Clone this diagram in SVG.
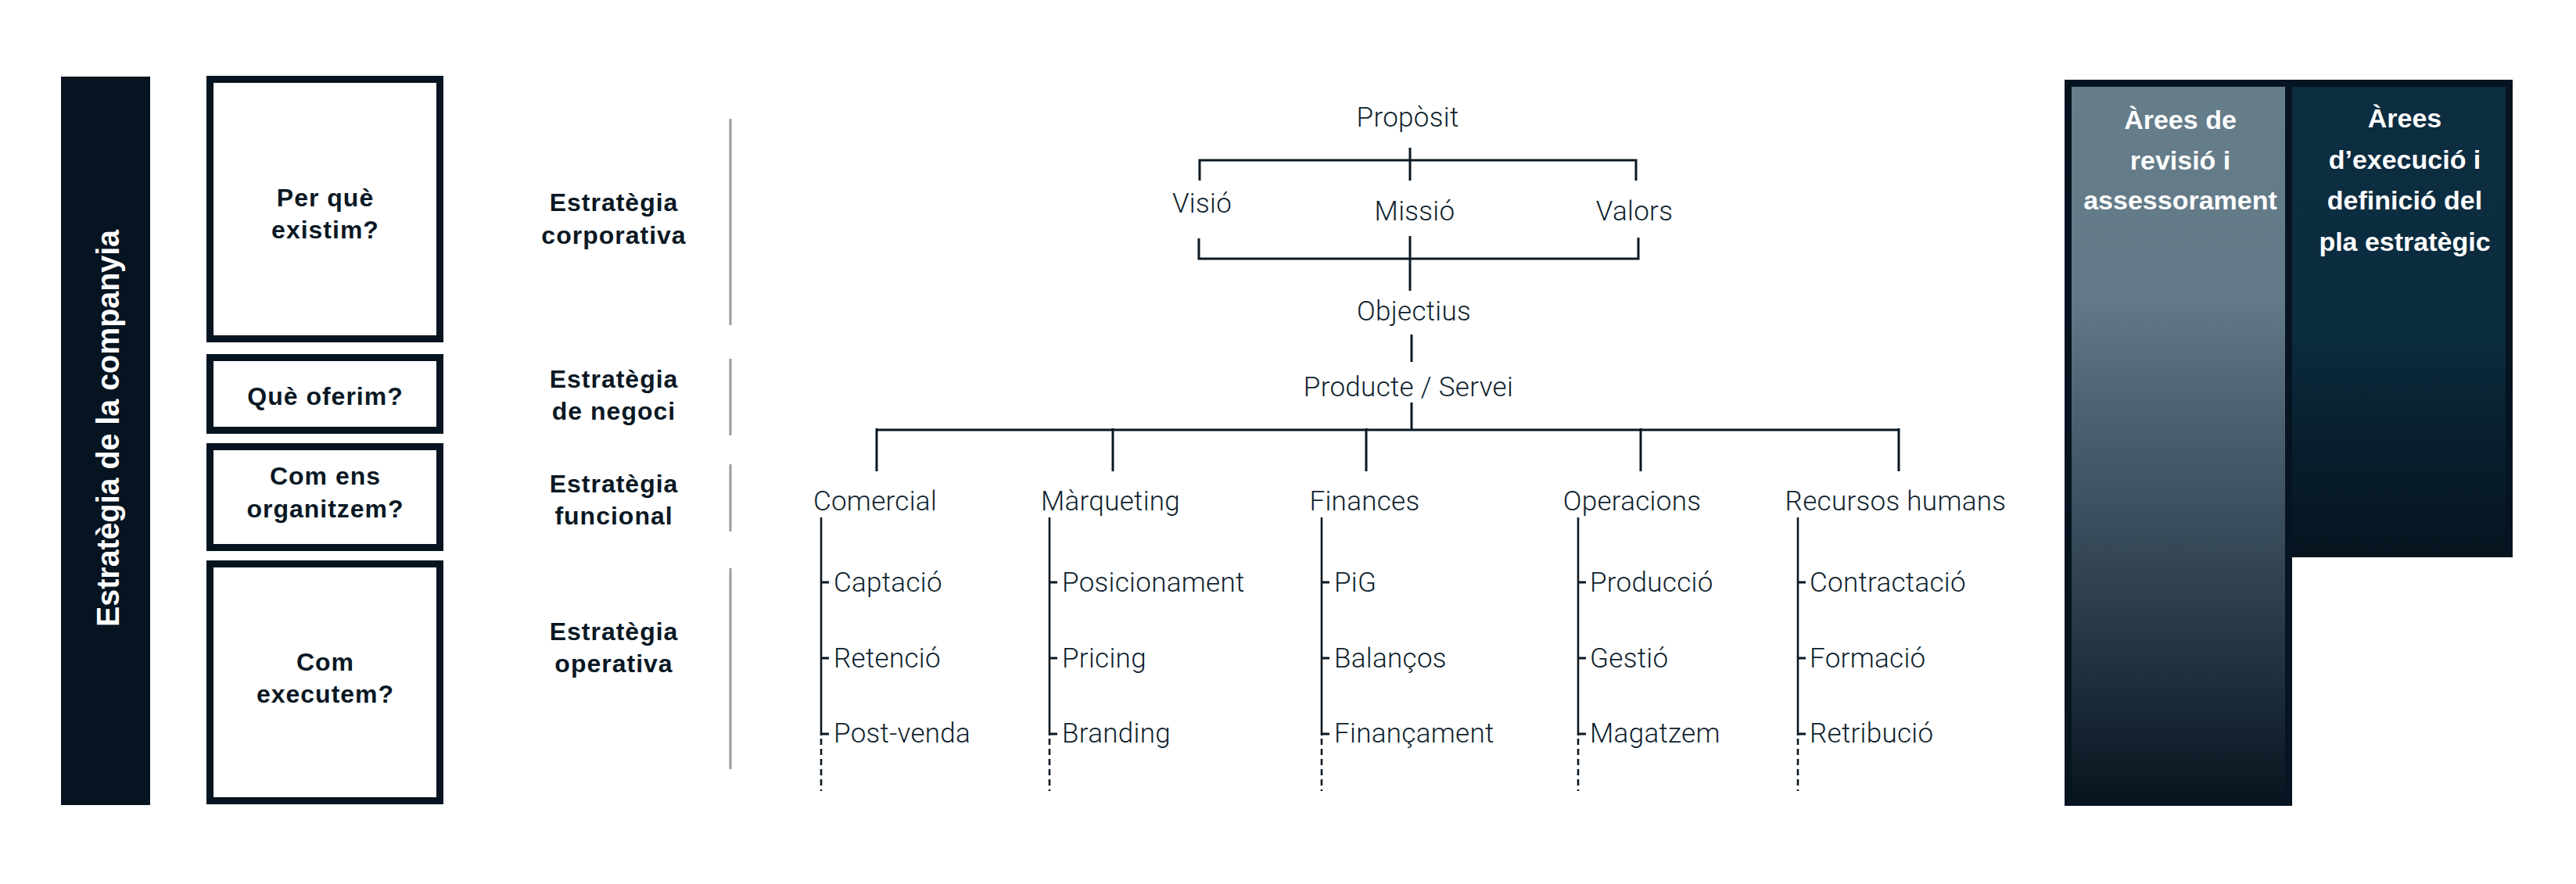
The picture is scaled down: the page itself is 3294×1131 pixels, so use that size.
<svg xmlns="http://www.w3.org/2000/svg" width="3294" height="1131" viewBox="0 0 3294 1131">
<style>
.bg{fill:#ffffff}
.dark{fill:#051420}
.box{fill:#ffffff;stroke:#051420;stroke-width:9}
.q{font-family:"Liberation Sans",Arial,sans-serif;font-weight:bold;font-size:32px;letter-spacing:1px;fill:#0a1824;text-anchor:middle}
.pan{font-family:"Liberation Sans",Arial,sans-serif;font-weight:bold;font-size:34px;fill:#ffffff;text-anchor:middle}
.lt{font-family:Roboto,"Liberation Sans",Arial,sans-serif;font-weight:300;font-size:35px;letter-spacing:0.3px;fill:#0f1f2e}
.c{text-anchor:middle}
.ln{stroke:#0a1822;stroke-width:3;fill:none}
.sub{stroke:#0a1822;stroke-width:2.6;fill:none}
.dash{stroke:#0a1822;stroke-width:2.6;fill:none;stroke-dasharray:8 5}
.gray{stroke:#9b9b9b;stroke-width:3;fill:none}
</style>
<defs>
<linearGradient id="gL" x1="0" y1="0" x2="0" y2="1">
<stop offset="0" stop-color="#667d8a"/>
<stop offset="0.3" stop-color="#627987"/>
<stop offset="0.45" stop-color="#4e6372"/>
<stop offset="0.58" stop-color="#3e5261"/>
<stop offset="0.72" stop-color="#2d3e4c"/>
<stop offset="0.86" stop-color="#1b2a37"/>
<stop offset="1" stop-color="#071520"/>
</linearGradient>
<linearGradient id="gR" x1="0" y1="0" x2="0" y2="1">
<stop offset="0" stop-color="#0d2d41"/>
<stop offset="0.55" stop-color="#0b2b3e"/>
<stop offset="0.8" stop-color="#081d2b"/>
<stop offset="1" stop-color="#061520"/>
</linearGradient>
</defs>
<rect class="bg" x="0" y="0" width="3294" height="1131"/>

<g id="company-bar">
<rect class="dark" x="78" y="98" width="114" height="932"/>
<text transform="translate(152,548) rotate(-90)" font-family="'Liberation Sans',Arial,sans-serif" font-weight="bold" font-size="40" fill="#ffffff" text-anchor="middle" textLength="508" lengthAdjust="spacingAndGlyphs">Estratègia de la companyia</text>
</g>

<g id="q-per-que">
<rect class="box" x="268.5" y="101.5" width="294" height="332"/>
<text class="q" x="416" y="264">Per què</text>
<text class="q" x="416" y="305">existim?</text>
</g>
<g id="q-que-oferim">
<rect class="box" x="268.5" y="457.5" width="294" height="93"/>
<text class="q" x="416" y="518">Què oferim?</text>
</g>
<g id="q-com-organitzem">
<rect class="box" x="268.5" y="571.5" width="294" height="129"/>
<text class="q" x="416" y="620">Com ens</text>
<text class="q" x="416" y="662">organitzem?</text>
</g>
<g id="q-com-executem">
<rect class="box" x="268.5" y="721.5" width="294" height="303"/>
<text class="q" x="416" y="858">Com</text>
<text class="q" x="416" y="899">executem?</text>
</g>

<g id="level-corporativa">
<text class="q" x="785" y="270">Estratègia</text>
<text class="q" x="785" y="312">corporativa</text>
<line class="gray" x1="934" y1="152" x2="934" y2="416"/>
</g>
<g id="level-negoci">
<text class="q" x="785" y="496">Estratègia</text>
<text class="q" x="785" y="537">de negoci</text>
<line class="gray" x1="934" y1="459" x2="934" y2="557"/>
</g>
<g id="level-funcional">
<text class="q" x="785" y="630">Estratègia</text>
<text class="q" x="785" y="671">funcional</text>
<line class="gray" x1="934" y1="594" x2="934" y2="680"/>
</g>
<g id="level-operativa">
<text class="q" x="785" y="819">Estratègia</text>
<text class="q" x="785" y="860">operativa</text>
<line class="gray" x1="934" y1="727" x2="934" y2="984"/>
</g>

<g id="connectors">
<path class="ln" d="M1803,189 V231 M1534,231 V205 H2092 V231"/>
<path class="ln" d="M1533,305 V331 H2095 V304 M1803,302 V372"/>
<path class="ln" d="M1805,428 V463"/>
<path class="ln" d="M1805,515 V550 M1121,550 H2428"/>
<path class="ln" d="M1121,548 V603 M1423,548 V603 M1747,548 V603 M2098,548 V603 M2428,548 V603"/>
<path class="sub" d="M1050,662 V941 M1342,662 V941 M1690,662 V941 M2018,662 V941 M2299,662 V941"/>
<path class="dash" d="M1050,945 V1012 M1342,945 V1012 M1690,945 V1012 M2018,945 V1012 M2299,945 V1012"/>
<path class="ln" d="M1050,745 H1060 M1050,842 H1060 M1050,939 H1060 M1342,745 H1352 M1342,842 H1352 M1342,939 H1352 M1690,745 H1700 M1690,842 H1700 M1690,939 H1700 M2018,745 H2028 M2018,842 H2028 M2018,939 H2028 M2299,745 H2309 M2299,842 H2309 M2299,939 H2309"/>
</g>

<g id="n-proposit"><text class="lt c" x="1800" y="162">Propòsit</text></g>
<g id="n-visio"><text class="lt c" x="1537" y="272">Visió</text></g>
<g id="n-missio"><text class="lt c" x="1809" y="282">Missió</text></g>
<g id="n-valors"><text class="lt c" x="2090" y="282">Valors</text></g>
<g id="n-objectius"><text class="lt c" x="1808" y="410">Objectius</text></g>
<g id="n-producte"><text class="lt c" x="1801" y="507">Producte / Servei</text></g>

<g id="n-comercial">
<text class="lt c" x="1119" y="653">Comercial</text>
<text class="lt" x="1066" y="757">Captació</text>
<text class="lt" x="1066" y="854">Retenció</text>
<text class="lt" x="1066" y="950">Post-venda</text>
</g>
<g id="n-marqueting">
<text class="lt c" x="1420" y="653">Màrqueting</text>
<text class="lt" x="1358" y="757">Posicionament</text>
<text class="lt" x="1358" y="854">Pricing</text>
<text class="lt" x="1358" y="950">Branding</text>
</g>
<g id="n-finances">
<text class="lt c" x="1745" y="653">Finances</text>
<text class="lt" x="1706" y="757">PiG</text>
<text class="lt" x="1706" y="854">Balanços</text>
<text class="lt" x="1706" y="950">Finançament</text>
</g>
<g id="n-operacions">
<text class="lt c" x="2087" y="653">Operacions</text>
<text class="lt" x="2033" y="757">Producció</text>
<text class="lt" x="2033" y="854">Gestió</text>
<text class="lt" x="2033" y="950">Magatzem</text>
</g>
<g id="n-rrhh">
<text class="lt c" x="2424" y="653">Recursos humans</text>
<text class="lt" x="2314" y="757">Contractació</text>
<text class="lt" x="2314" y="854">Formació</text>
<text class="lt" x="2314" y="950">Retribució</text>
</g>

<g id="areas">
<path class="dark" d="M2640,102 H3213 V713 H2931 V1031 H2640 Z"/>
<g id="area-revisio">
<rect x="2649" y="111" width="273" height="912" fill="url(#gL)"/>
<text class="pan" x="2788" y="165">Àrees de</text>
<text class="pan" x="2788" y="217">revisió i</text>
<text class="pan" x="2788" y="268">assessorament</text>
</g>
<g id="area-execucio">
<rect x="2931" y="111" width="273" height="594" fill="url(#gR)"/>
<text class="pan" x="3075" y="163">Àrees</text>
<text class="pan" x="3075" y="216">d’execució i</text>
<text class="pan" x="3075" y="268">definició del</text>
<text class="pan" x="3075" y="321">pla estratègic</text>
</g>
</g>
</svg>
